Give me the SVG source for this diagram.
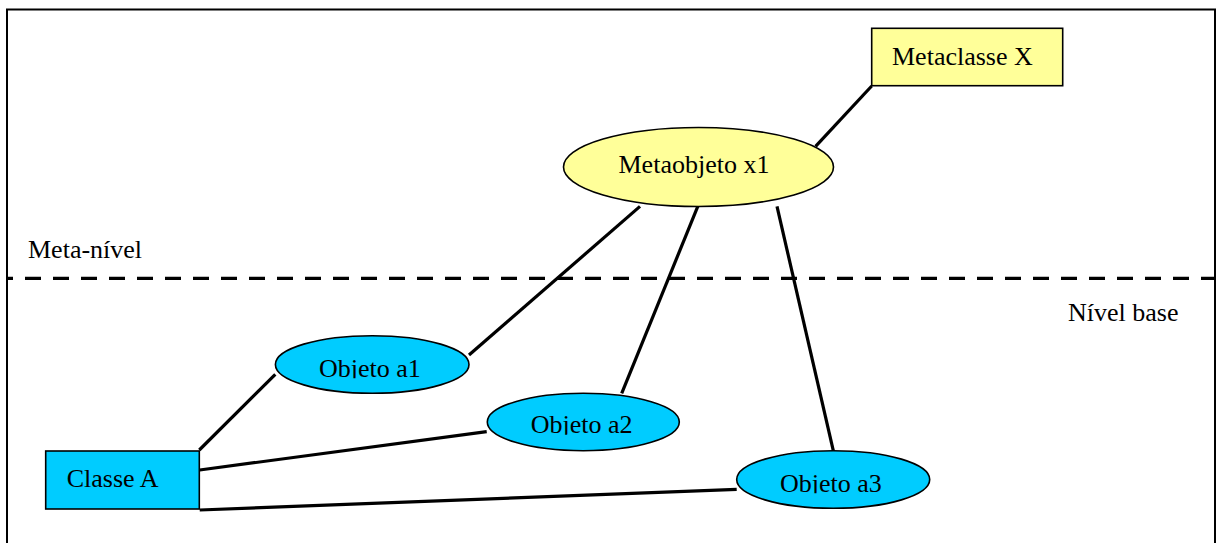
<svg xmlns="http://www.w3.org/2000/svg" width="1218" height="543" viewBox="0 0 1218 543">
  <style>
    .frame { fill: none; stroke: #000; stroke-width: 2; }
    .divider { fill: none; stroke: #000; stroke-width: 3.3; stroke-dasharray: 16 12; stroke-dashoffset: 11; }
    .edge { fill: none; stroke: #000; stroke-width: 3.2; }
    .meta { fill: #FFFF99; stroke: #000; stroke-width: 1.6; }
    .base { fill: #00CCFF; stroke: #000; stroke-width: 1.6; }
    text { font-family: "Liberation Serif", "Times New Roman", serif; font-size: 26px; fill: #000; }
  </style>
  <defs>
    <!-- text frames cut the label descenders just below the baseline -->
    <clipPath id="clip-a1"><rect x="300" y="340" width="140" height="38.2"/></clipPath>
    <clipPath id="clip-a2"><rect x="510" y="397" width="140" height="37.8"/></clipPath>
    <clipPath id="clip-a3"><rect x="760" y="455" width="140" height="38.2"/></clipPath>
  </defs>

  <rect width="1218" height="543" fill="#fff"/>

  <!-- outer frame, open past the bottom edge -->
  <rect class="frame" x="7" y="9.5" width="1208" height="560"/>

  <!-- level separator -->
  <line class="divider" x1="8" y1="278.3" x2="1214" y2="278.3"/>
  <text x="28" y="258">Meta-nível</text>
  <text x="1068" y="321">Nível base</text>

  <g id="connectors">
    <line class="edge" x1="871.7" y1="86" x2="815.6" y2="146.4"/>
    <line class="edge" x1="640" y1="206.4" x2="469" y2="355"/>
    <line class="edge" x1="697.8" y1="206.4" x2="621.7" y2="393.3"/>
    <line class="edge" x1="777" y1="206.4" x2="833.3" y2="450.7"/>
    <line class="edge" x1="199.3" y1="450" x2="275.3" y2="374.3"/>
    <line class="edge" x1="199.7" y1="470" x2="486.7" y2="431.7"/>
    <line class="edge" x1="199.7" y1="510" x2="736.7" y2="489.3"/>
  </g>

  <g id="metaclasse-x">
    <rect class="meta" x="871.7" y="28.3" width="191" height="57.4"/>
    <text x="892" y="65">Metaclasse X</text>
  </g>

  <g id="metaobjeto-x1">
    <ellipse class="meta" cx="698.5" cy="167" rx="135" ry="39.5"/>
    <text x="618.5" y="173">Metaobjeto x1</text>
  </g>

  <g id="objeto-a1">
    <ellipse class="base" cx="372.2" cy="364.5" rx="96.8" ry="28.8"/>
    <text x="319" y="376.7" clip-path="url(#clip-a1)">Objeto a1</text>
  </g>

  <g id="objeto-a2">
    <ellipse class="base" cx="583.3" cy="422" rx="96" ry="28.7"/>
    <text x="530.7" y="433.3" clip-path="url(#clip-a2)">Objeto a2</text>
  </g>

  <g id="objeto-a3">
    <ellipse class="base" cx="833.2" cy="479.5" rx="96.5" ry="28.8"/>
    <text x="780" y="491.7" clip-path="url(#clip-a3)">Objeto a3</text>
  </g>

  <g id="classe-a">
    <rect class="base" x="45.7" y="451" width="153.6" height="58"/>
    <text x="66.7" y="486.7">Classe A</text>
  </g>
</svg>
